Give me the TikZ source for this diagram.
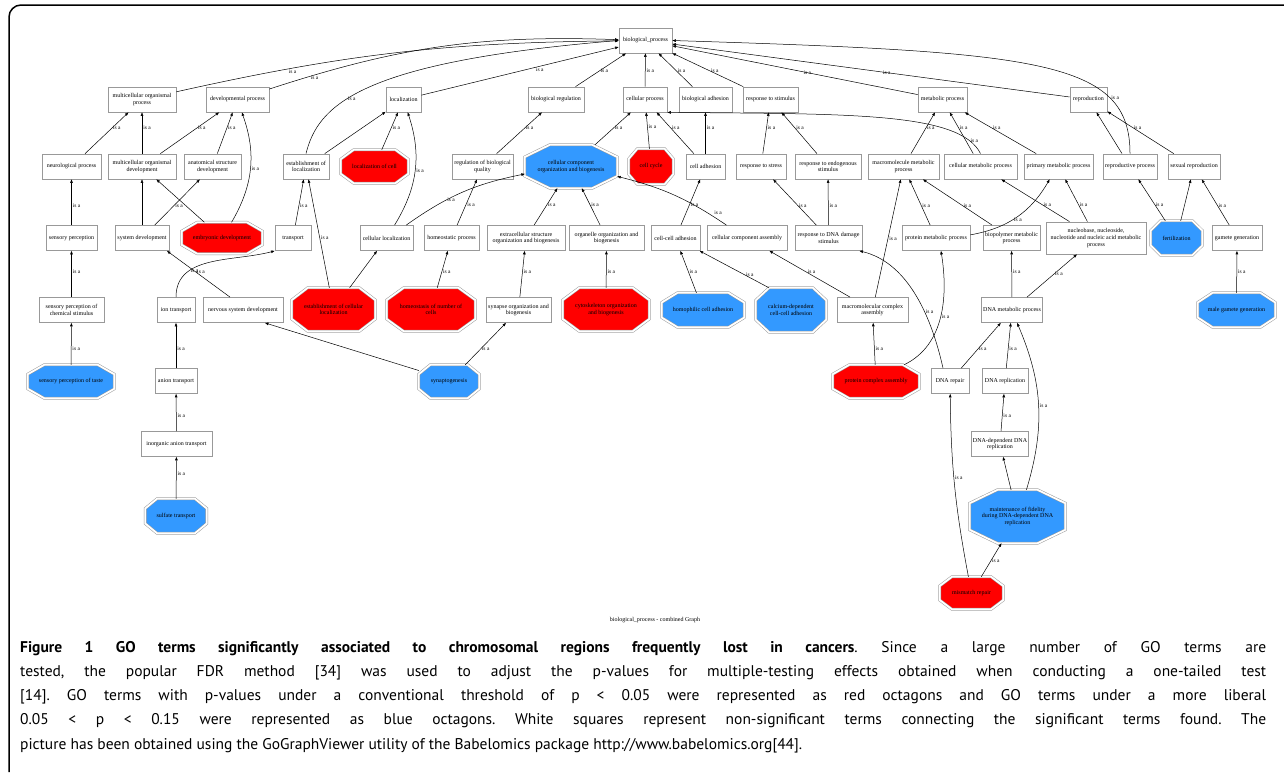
\documentclass[tikz,border=0pt]{standalone}
\usepackage{fontspec}
\newfontfamily\goserif{Liberation Serif}
\newfontfamily\capsans{PT Sans}
\usetikzlibrary{arrows.meta,calc,positioning}
\pgfdeclarelayer{octs}
\pgfsetlayers{octs,main}
\definecolor{gored}{RGB}{255,0,0}
\definecolor{goblue}{RGB}{51,153,255}
\newcommand\gofont{\goserif\fontsize{6}{6.6}\selectfont}
\newcommand\isafont{\goserif\fontsize{5.5}{6}\selectfont}
\tikzset{
  term/.style={rectangle,draw=black!40,line width=.8pt,fill=white,align=center,
    font=\gofont,inner sep=1.5pt,minimum height=25pt},
  octo/.style n args={3}{rectangle,align=center,font=\gofont,inner sep=1.5pt,
    minimum height=33pt,append after command={\pgfextra{%
      \begin{pgfonlayer}{octs}
      \path[draw=black!40,line width=.5pt,double=white,double distance=1.8pt,fill=#1]
        ($(\tikzlastnode.north west)!#2!(\tikzlastnode.north east)$)
        -- ($(\tikzlastnode.north east)!#2!(\tikzlastnode.north west)$)
        -- ($(\tikzlastnode.north east)!#3!(\tikzlastnode.south east)$)
        -- ($(\tikzlastnode.south east)!#3!(\tikzlastnode.north east)$)
        -- ($(\tikzlastnode.south east)!#2!(\tikzlastnode.south west)$)
        -- ($(\tikzlastnode.south west)!#2!(\tikzlastnode.south east)$)
        -- ($(\tikzlastnode.south west)!#3!(\tikzlastnode.north west)$)
        -- ($(\tikzlastnode.north west)!#3!(\tikzlastnode.south west)$) -- cycle;
      \end{pgfonlayer}}}},
  redoct/.style={octo={gored}{.19}{.28}},
  blueoct/.style={octo={goblue}{.19}{.28}},
  isa/.style={-{Triangle[length=3.5pt,width=2.6pt]},line width=.5pt},
  lbl/.style={font=\isafont,inner sep=1pt,anchor=west}
}
\begin{document}
\begin{tikzpicture}[x=1pt,y=-1pt]
\useasboundingbox (0,0) rectangle (1284,772);
\draw[line width=1.5pt,rounded corners=12pt] (1284,5) -- (9,5) -- (9,772);

% GO terms, rank by rank
\node[term,minimum width=53pt] (root) at (645.5,40.5) {biological\_process};

\node[term,minimum width=68pt] (mop) at (142,99.5) {multicellular organismal\\process};
\node[term,minimum width=63pt] (dp) at (237.5,99.5) {developmental process};
\node[term,minimum width=35pt] (loc) at (403.5,99.5) {localization};
\node[term,minimum width=56pt] (breg) at (556,99.5) {biological regulation};
\node[term,minimum width=44pt] (cp) at (645,99.5) {cellular process};
\node[term,minimum width=53pt] (badh) at (705.5,99.5) {biological adhesion};
\node[term,minimum width=55pt] (rstim) at (770.5,99.5) {response to stimulus};
\node[term,minimum width=49pt] (metp) at (942.5,99.5) {metabolic process};
\node[term,minimum width=37pt] (repro) at (1088.5,99.5) {reproduction};

\node[term,minimum width=59pt] (neuro) at (71.5,166.5) {neurological process};
\node[term,minimum width=68pt] (mod) at (142,166.5) {multicellular organismal\\development};
\node[term,minimum width=57pt] (asd) at (212.5,166.5) {anatomical structure\\development};
\node[term,minimum width=46pt] (eol) at (306,166.5) {establishment of\\localization};
\node[redoct,minimum width=67pt] (lcell) at (374.5,166.5) {localization of cell};
\node[term,minimum width=61pt] (rbq) at (482.5,166.5) {regulation of biological\\quality};
\node[octo={goblue}{.27}{.28},minimum width=92pt,minimum height=43pt] (ccob) at (571,166.5) {cellular component\\organization and biogenesis};
\node[redoct,minimum width=44pt,minimum height=35pt] (ccycle) at (651,166.5) {cell cycle};
\node[term,minimum width=39pt] (cadh) at (705.5,166.5) {cell adhesion};
\node[term,minimum width=50pt] (rstress) at (761,166.5) {response to stress};
\node[term,minimum width=66pt] (rendo) at (828,166.5) {response to endogenous\\stimulus};
\node[term,minimum width=71pt] (mmp) at (903.5,166.5) {macromolecule metabolic\\process};
\node[term,minimum width=73pt] (cmp) at (980.5,166.5) {cellular metabolic process};
\node[term,minimum width=69pt] (pmp) at (1058.5,166.5) {primary metabolic process};
\node[term,minimum width=54pt] (repproc) at (1130,166.5) {reproductive process};
\node[term,minimum width=52pt] (sexrep) at (1194,166.5) {sexual reproduction};

\node[term,minimum width=51pt] (sensp) at (71.5,238) {sensory perception};
\node[term,minimum width=54pt] (sysdev) at (142,238) {system development};
\node[redoct,minimum width=80pt,minimum height=31pt] (embryo) at (222,238) {embryonic development};
\node[term,minimum width=36pt] (transport) at (293,238) {transport};
\node[term,minimum width=53pt] (cloc) at (386.5,238) {cellular localization};
\node[term,minimum width=55pt] (homeo) at (451.5,238) {homeostatic process};
\node[term,minimum width=78pt] (esob) at (526,238) {extracellular structure\\organization and biogenesis};
\node[term,minimum width=75pt] (oob) at (606.5,238) {organelle organization and\\biogenesis};
\node[term,minimum width=49pt] (ccell) at (675.5,238) {cell-cell adhesion};
\node[term,minimum width=80pt] (cca) at (747,238) {cellular component assembly};
\node[term,minimum width=67pt] (rdna) at (828.5,238) {response to DNA damage\\stimulus};
\node[term,minimum width=68pt] (protmp) at (936,238) {protein metabolic process};
\node[term,minimum width=57pt] (bpmp) at (1011.5,238) {biopolymer metabolic\\process};
\node[term,minimum width=100pt,minimum height=32pt] (nucl) at (1096,238) {nucleobase, nucleoside,\\nucleotide and nucleic acid metabolic\\process};
\node[blueoct,minimum width=51pt,minimum height=34pt] (fert) at (1176.5,238) {fertilization};
\node[term,minimum width=50pt] (gamgen) at (1237,238) {gamete generation};

\node[term,minimum width=65pt] (spcs) at (71.5,310) {sensory perception of\\chemical stimulus};
\node[term,minimum width=38pt] (iont) at (176,310) {ion transport};
\node[term,minimum width=80pt] (nsd) at (243,310) {nervous system development};
\node[redoct,minimum width=83pt,minimum height=43pt] (ecl) at (333.5,309.5) {establishment of cellular\\localization};
\node[redoct,minimum width=88pt,minimum height=43pt] (hnc) at (431,309.5) {homeostasis of number of\\cells};
\node[term,minimum width=65pt] (synorg) at (518.5,310) {synapse organization and\\biogenesis};
\node[redoct,minimum width=86pt,minimum height=43pt] (cyto) at (606,309.5) {cytoskeleton organization\\and biogenesis};
\node[blueoct,minimum width=82pt,minimum height=34pt] (homoph) at (703,310) {homophilic cell adhesion};
\node[blueoct,minimum width=70pt,minimum height=44pt] (cadep) at (791,310) {calcium-dependent\\cell-cell adhesion};
\node[term,minimum width=71pt] (mca) at (872.5,310) {macromolecular complex\\assembly};
\node[term,minimum width=60pt] (dnamp) at (1012,310) {DNA metabolic process};
\node[blueoct,minimum width=77pt,minimum height=34pt] (mgg) at (1236.5,310) {male gamete generation};

\node[blueoct,minimum width=86pt] (spt) at (71,381.5) {sensory perception of taste};
\node[term,minimum width=42pt] (aniont) at (176,381) {anion transport};
\node[blueoct,minimum width=60pt] (synapto) at (449,381.5) {synaptogenesis};
\node[redoct,minimum width=86pt] (pca) at (876,381.5) {protein complex assembly};
\node[term,minimum width=38pt] (dnarep) at (950,381) {DNA repair};
\node[term,minimum width=46pt] (dnarepl) at (1005,381) {DNA replication};

\node[term,minimum width=71pt] (iat) at (176.5,444) {inorganic anion transport};
\node[term,minimum width=57pt] (dddr) at (1000,444) {DNA-dependent DNA\\replication};

\node[blueoct,minimum width=61pt,minimum height=34pt] (st) at (176,516) {sulfate transport};
\node[octo={goblue}{.29}{.25},minimum width=95pt,minimum height=53pt] (mfid) at (1017.5,516.5) {maintenance of fidelity\\during DNA-dependent DNA\\replication};

\node[redoct,minimum width=63pt,minimum height=32pt] (mmr) at (971.5,593) {mismatch repair};

% is-a links, child to parent
\draw[isa] (mop) to[bend left=6] node[lbl,pos=.25,anchor=north]{is a} (root);
\draw[isa] (dp) to[bend left=10] node[lbl,pos=.12,anchor=north]{is a} (root);
\draw[isa] (eol.north) .. controls (318,105) and (360,62) .. (root.west) node[lbl,pos=.4]{is a};
\draw[isa] (loc) -- node[lbl,pos=.6,anchor=north]{is a} (root);
\draw[isa] (breg) -- node[lbl,pos=.47]{is a} (root);
\draw[isa] (cp) -- node[lbl,pos=.47]{is a} (root);
\draw[isa] (badh) -- node[lbl,pos=.47]{is a} (root);
\draw[isa] (rstim) -- node[lbl,pos=.47]{is a} (root);
\draw[isa] (metp) -- node[lbl,pos=.45,anchor=center]{is a} (root);
\draw[isa] (repro) -- node[lbl,pos=.46,anchor=center]{is a} (root);
\draw[isa] (repproc.north) .. controls (1130,60) and (1040,52) .. (root.east) node[lbl,pos=.25]{is a};

\draw[isa] (neuro) -- node[lbl,pos=.62]{is a} (mop);
\draw[isa] (mod) -- node[lbl,pos=.62]{is a} (mop);
\draw[isa] (mod) -- node[lbl,pos=.62]{is a} (dp);
\draw[isa] (asd) -- node[lbl,pos=.62]{is a} (dp);
\draw[isa] (embryo) to[bend right=25] node[lbl,pos=.5]{is a} (dp);
\draw[isa] (eol) -- (loc);
\draw[isa] (lcell) -- node[lbl,pos=.6]{is a} (loc);
\draw[isa] (cloc) to[bend right=25] node[lbl,pos=.5]{is a} (loc);
\draw[isa] (cloc) to[bend left=12] node[lbl,pos=.35]{is a} (ccob);
\draw[isa] (rbq) -- node[lbl,pos=.62]{is a} (breg);
\draw[isa] (homeo) -- node[lbl,pos=.45]{is a} (rbq);
\draw[isa] (ccob) -- node[lbl,pos=.52]{is a} (cp);
\draw[isa] (ccycle) -- node[lbl,pos=.6]{is a} (cp);
\draw[isa] (cadh) -- node[lbl,pos=.62]{is a} (cp);
\draw[isa] (cadh) -- node[lbl,pos=.62]{is a} (badh);
\draw[isa] (cmp.north) .. controls (960,112) and (850,114) .. (cp.south east) node[lbl,pos=.12]{is a};
\draw[isa] (rstress) -- node[lbl,pos=.62]{is a} (rstim);
\draw[isa] (rendo) -- node[lbl,pos=.62]{is a} (rstim);
\draw[isa] (mmp) -- node[lbl,pos=.62]{is a} (metp);
\draw[isa] (cmp) -- node[lbl,pos=.62]{is a} (metp);
\draw[isa] (pmp) -- node[lbl,pos=.62]{is a} (metp);
\draw[isa] (repproc) -- (repro);
\draw[isa] (sexrep) -- node[lbl,pos=.62]{is a} (repro);

\draw[isa] (sensp) -- node[lbl,pos=.43]{is a} (neuro);
\draw[isa] (sysdev) -- (mod);
\draw[isa] (sysdev) -- node[lbl,pos=.43]{is a} (asd);
\draw[isa] (embryo) -- (mod);
\draw[isa] (transport) -- node[lbl,pos=.43]{is a} (eol);
\draw[isa] (ecl) -- node[lbl,pos=.46]{is a} (eol);
\draw[isa] (ecl) -- (cloc);
\draw[isa] (hnc) -- node[lbl,pos=.43]{is a} (homeo);
\draw[isa] (esob) -- node[lbl,pos=.55]{is a} (ccob);
\draw[isa] (oob) -- node[lbl,pos=.55]{is a} (ccob);
\draw[isa] (cca) to[bend right=10] node[lbl,pos=.12,anchor=south west]{is a} (ccob);
\draw[isa] (ccell) -- node[lbl,pos=.45]{is a} (cadh);
\draw[isa] (rdna) -- node[lbl,pos=.43]{is a} (rstress);
\draw[isa] (rdna) -- node[lbl,pos=.43]{is a} (rendo);
\draw[isa] (protmp) -- node[lbl,pos=.43]{is a} (mmp);
\draw[isa] (protmp) to[bend right=25] node[lbl,pos=.45]{is a} (pmp);
\draw[isa] (bpmp) -- node[lbl,pos=.43]{is a} (mmp);
\draw[isa] (nucl) -- node[lbl,pos=.4]{is a} (cmp);
\draw[isa] (nucl) -- node[lbl,pos=.4]{is a} (pmp);
\draw[isa] (fert) -- node[lbl,pos=.4]{is a} (repproc);
\draw[isa] (fert) -- (sexrep);
\draw[isa] (gamgen) -- node[lbl,pos=.43]{is a} (sexrep);

\draw[isa] (spcs) -- node[lbl,pos=.54]{is a} (sensp);
\draw[isa] ([xshift=-13pt]nsd.north) -- node[lbl,pos=.54]{is a} ([xshift=25pt]sysdev.south);
\draw[isa] (iont.north) to[out=90,in=195] node[lbl,pos=.3]{is a} (transport.south west);
\draw[isa] (synorg) -- node[lbl,pos=.54]{is a} (esob);
\draw[isa] (cyto) -- node[lbl,pos=.43]{is a} (oob);
\draw[isa] (homoph) -- node[lbl,pos=.5]{is a} (ccell);
\draw[isa] ([xshift=-22pt]cadep.north) -- node[lbl,pos=.35]{is a} (ccell);
\draw[isa] (mca) -- node[lbl,pos=.54]{is a} (cca);
\draw[isa] (mca) -- node[lbl,pos=.5]{is a} (mmp);
\draw[isa] (dnamp) -- node[lbl,pos=.54]{is a} (bpmp);
\draw[isa] (dnamp) -- node[lbl,pos=.54]{is a} (nucl);
\draw[isa] (mgg) -- node[lbl,pos=.5]{is a} (gamgen);

\draw[isa] (spt) -- node[lbl,pos=.38]{is a} (spcs);
\draw[isa] (aniont) -- node[lbl,pos=.42]{is a} (iont);
\draw[isa] (synapto) -- node[lbl,pos=.38]{is a} (synorg);
\draw[isa] (synapto.160) -- ([xshift=22pt]nsd.south);
\draw[isa] (pca) -- node[lbl,pos=.38]{is a} (mca);
\draw[isa] ([xshift=28pt]pca.north) .. controls (945,345) and (948,295) .. ([xshift=5pt]protmp.south) node[lbl,pos=.5]{is a};
\draw[isa] ([xshift=-7pt]dnarep.north) .. controls (930,310) and (905,262) .. ([xshift=31pt]rdna.south) node[lbl,pos=.35]{is a};
\draw[isa] (dnarep) -- node[lbl,pos=.42]{is a} (dnamp);
\draw[isa] (dnarepl) -- node[lbl,pos=.42]{is a} (dnamp);

\draw[isa] (iat) -- node[lbl,pos=.41]{is a} (aniont);
\draw[isa] (dddr) -- node[lbl,pos=.41]{is a} (dnarepl);
\draw[isa] (st) -- node[lbl,pos=.59]{is a} (iat);
\draw[isa] (mfid) to[bend right=20] node[lbl,pos=.5]{is a} (dnamp);
\draw[isa] (mfid) -- (dddr);
\draw[isa] (mmr) -- node[lbl,pos=.47]{is a} (mfid);
\draw[isa] (mmr) to[bend left=5] node[lbl,pos=.55]{is a} (dnarep);

\node[font=\gofont] (ttl) at (655,620) {biological\_process - combined Graph};

\node[anchor=north west,inner sep=0pt,text width=1246pt,align=justify,
  font=\capsans\fontsize{15.5}{24.2}\selectfont] (cap) at (20,641)
  {\frenchspacing\textbf{Figure 1 GO terms significantly associated to chromosomal regions frequently lost in cancers}. Since a large number of GO terms are\linebreak{}
  tested, the popular FDR method [34] was used to adjust the p-values for multiple-testing effects obtained when conducting a one-tailed test\linebreak{}
  [14]. GO terms with p-values under a conventional threshold of p < 0.05 were represented as red octagons and GO terms under a more liberal\linebreak{}
  0.05 < p < 0.15 were represented as blue octagons. White squares represent non-significant terms connecting the significant terms found. The\linebreak{}
  picture has been obtained using the GoGraphViewer utility of the Babelomics package http://www.babelomics.org[44].};
\end{tikzpicture}
\end{document}
